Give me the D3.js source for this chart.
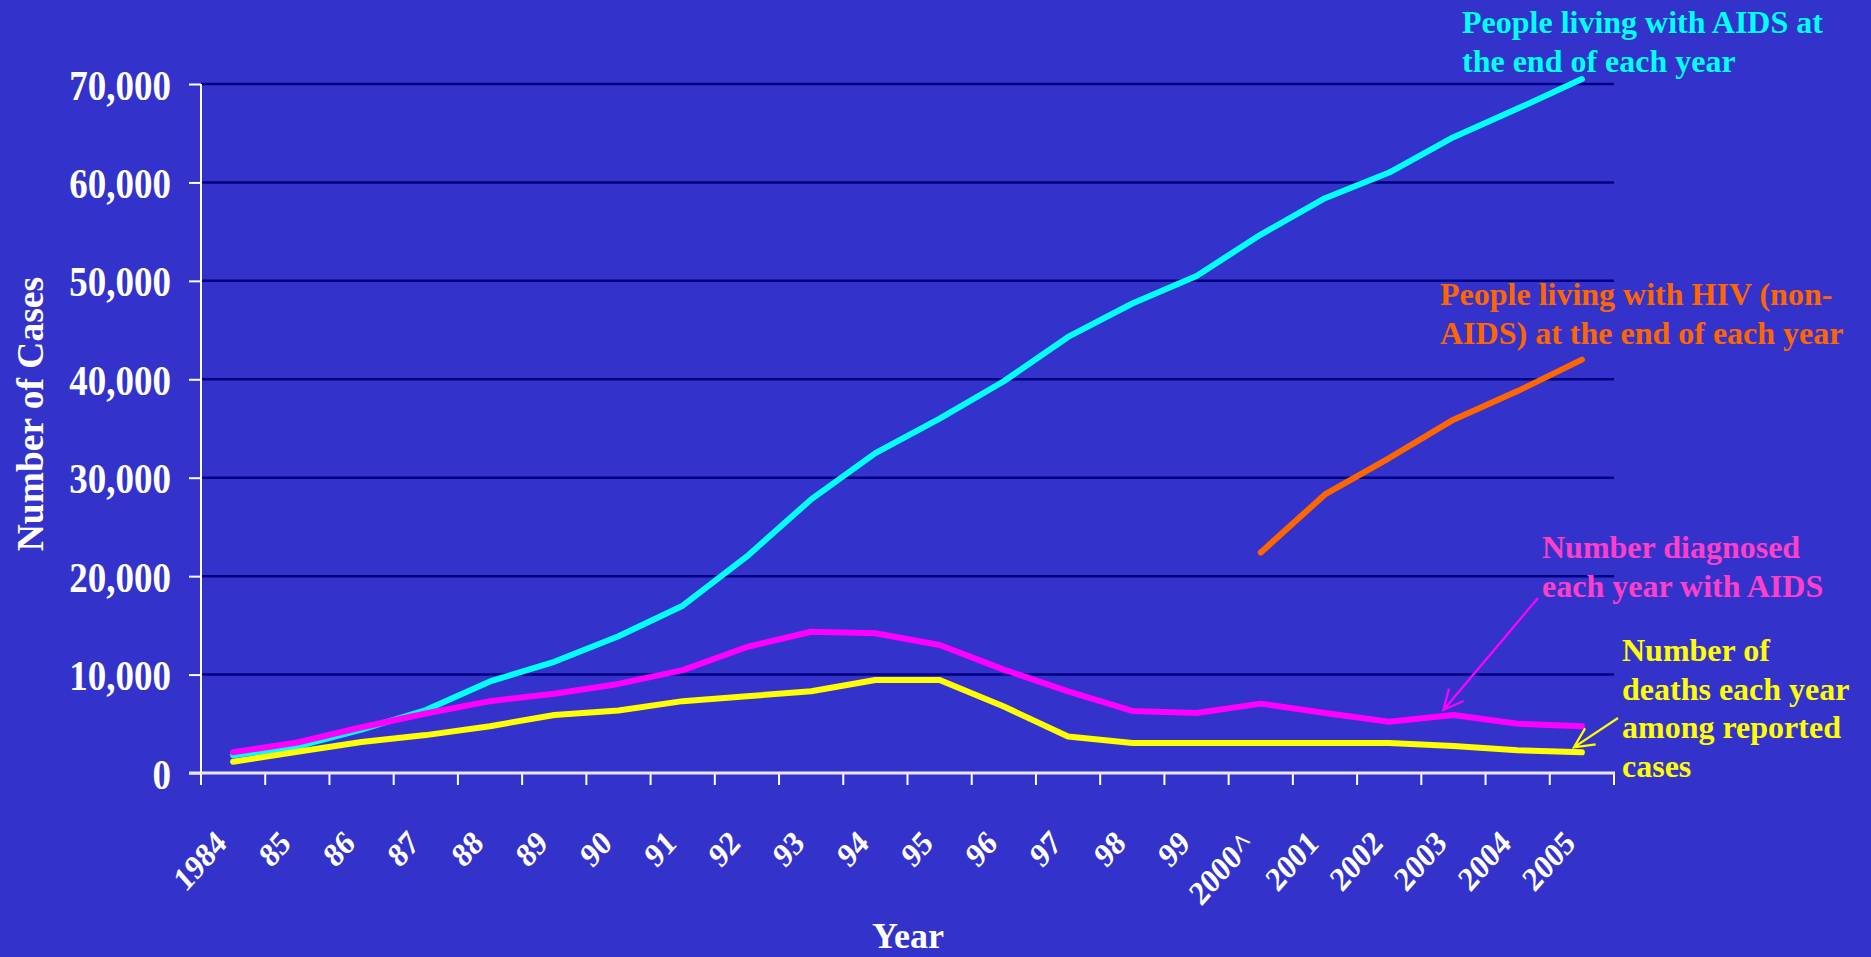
<!DOCTYPE html>
<html>
<head>
<meta charset="utf-8">
<script src="https://cdn.jsdelivr.net/npm/d3@7"></script>
<style>
  html, body { margin: 0; padding: 0; background: #3333CC; }
  svg { display: block; }
  text { font-family: "Liberation Serif", "Times New Roman", serif; font-weight: bold; }
</style>
</head>
<body>
<svg id="chart" width="1871" height="957"></svg>
<script>
// Year categories along the x axis
const years = ["1984","85","86","87","88","89","90","91","92","93","94","95","96","97","98","99","2000^","2001","2002","2003","2004","2005"];

// People living with AIDS at the end of each year
const livingAids = [1800,2700,4400,6400,9300,11300,13900,17000,22000,27800,32500,36000,39800,44300,47700,50500,54700,58400,61000,64600,67500,70500];
// People living with HIV (non-AIDS) at the end of each year (reported from 2000)
const livingHiv = [null,null,null,null,null,null,null,null,null,null,null,null,null,null,null,null,22400,28300,32000,35900,38800,42000];
// Number diagnosed each year with AIDS
const diagnosed = [2100,3100,4650,6050,7300,8050,9050,10450,12800,14350,14200,13000,10500,8300,6300,6100,7050,6100,5200,5900,5000,4750];
// Number of deaths each year among reported cases
const deaths = [1150,2150,3150,3850,4750,5900,6350,7300,7800,8300,9450,9450,6750,3700,3050,3050,3050,3050,3050,2750,2300,2100];

const yTicks = [0,10000,20000,30000,40000,50000,60000,70000];

const svg = d3.select("#chart");
const W = 1871, H = 957;
svg.append("rect").attr("width", W).attr("height", H).attr("fill", "#3333CC");

const plot = { left: 201, right: 1614, top: 84, bottom: 773 };

const x = d3.scaleBand().domain(years).range([plot.left, plot.right]).paddingInner(0).paddingOuter(0);
const y = d3.scaleLinear().domain([0, 70000]).range([plot.bottom, plot.top]);
const cx = d => x(d) + x.bandwidth() / 2;

// Horizontal gridlines
svg.append("g")
  .selectAll("line")
  .data(yTicks.filter(v => v > 0))
  .join("line")
  .attr("x1", plot.left).attr("x2", plot.right)
  .attr("y1", d => y(d)).attr("y2", d => y(d))
  .attr("stroke", "#000080").attr("stroke-width", 2.5);

// Y axis
const yAxis = svg.append("g")
  .attr("transform", `translate(${plot.left},0)`)
  .call(d3.axisLeft(y).tickValues(yTicks).tickSize(12).tickFormat(d3.format(",")));
yAxis.select(".domain").attr("stroke", "#FFFFFF").attr("stroke-width", 2)
  .attr("d", `M0,${plot.top}V${plot.bottom}`);
yAxis.selectAll(".tick line").attr("stroke", "#FFFFFF").attr("stroke-width", 2);
yAxis.selectAll(".tick text")
  .attr("x", null).attr("dy", null)
  .attr("transform", "translate(-30,15) scale(0.86,1)")
  .attr("fill", "#FFFFFF")
  .style("font-size", "43px")
  .style("font-family", "'Liberation Serif', 'Times New Roman', serif")
  .style("font-weight", "bold");

// X axis: labels from the band scale, ticks on category boundaries
const xAxis = svg.append("g")
  .attr("transform", `translate(0,${plot.bottom})`)
  .call(d3.axisBottom(x).tickSize(0).tickPadding(0));
xAxis.select(".domain").remove();
xAxis.selectAll(".tick text")
  .attr("y", null).attr("dy", null)
  .attr("text-anchor", "end")
  .attr("transform", "translate(-5,72) scale(0.88,1) rotate(-45)")
  .attr("fill", "#FFFFFF")
  .style("font-size", "34px")
  .style("font-family", "'Liberation Serif', 'Times New Roman', serif")
  .style("font-weight", "bold");

const bounds = years.map(d => x(d)).concat([x.range()[1]]);
svg.append("g")
  .selectAll("line")
  .data(bounds)
  .join("line")
  .attr("x1", d => d).attr("x2", d => d)
  .attr("y1", plot.bottom).attr("y2", plot.bottom + 12)
  .attr("stroke", "#FFFFFF").attr("stroke-width", 2);
svg.append("line")
  .attr("x1", plot.left - 12).attr("x2", plot.right + 1)
  .attr("y1", plot.bottom).attr("y2", plot.bottom)
  .attr("stroke", "#E6E6F4").attr("stroke-width", 3);

// Series lines
const series = [
  { values: livingAids, color: "#00FFFF" },
  { values: livingHiv, color: "#FF6600" },
  { values: diagnosed, color: "#FF00FF" },
  { values: deaths, color: "#FFFF00" }
];
const line = d3.line()
  .defined(d => d.v != null)
  .x(d => cx(d.year))
  .y(d => y(d.v));
svg.append("g")
  .selectAll("path")
  .data(series)
  .join("path")
  .attr("d", s => line(years.map((yr, i) => ({ year: yr, v: s.values[i] }))))
  .attr("fill", "none")
  .attr("stroke", s => s.color)
  .attr("stroke-width", 6)
  .attr("stroke-linejoin", "round")
  .attr("stroke-linecap", "round");

// Axis titles
svg.append("text")
  .attr("x", 908).attr("y", 948)
  .attr("text-anchor", "middle")
  .attr("fill", "#FFFFFF")
  .style("font-size", "36px")
  .text("Year");
svg.append("text")
  .attr("transform", "translate(43,277) rotate(-90)")
  .attr("text-anchor", "end")
  .attr("fill", "#FFFFFF")
  .style("font-size", "37.5px")
  .text("Number of Cases");

// Series annotations
function note(lines, x0, y0, color) {
  const t = svg.append("text")
    .attr("fill", color)
    .style("font-size", "32px");
  lines.forEach((s, i) => {
    t.append("tspan").attr("x", x0).attr("y", y0 + i * 38.5).text(s);
  });
}
note(["People living with AIDS at", "the end of each year"], 1462, 33, "#00FFFF");
note(["People living with HIV (non-", "AIDS) at the end of each year"], 1440, 305, "#FF6600");
note(["Number diagnosed", "each year with AIDS"], 1542, 558, "#FF3FC8");
note(["Number of", "deaths each year", "among reported", "cases"], 1622, 661, "#FFFF00");

// Pointer arrows from labels to their lines
function arrow(x0, y0, x1, y1, color) {
  const ang = Math.atan2(y0 - y1, x0 - x1);
  const len = 22, spread = Math.PI / 7;
  const a1 = [x1 + len * Math.cos(ang - spread), y1 + len * Math.sin(ang - spread)];
  const a2 = [x1 + len * Math.cos(ang + spread), y1 + len * Math.sin(ang + spread)];
  svg.append("path")
    .attr("d", `M${x0},${y0}L${x1},${y1}M${a1[0]},${a1[1]}L${x1},${y1}L${a2[0]},${a2[1]}`)
    .attr("fill", "none")
    .attr("stroke", color)
    .attr("stroke-width", 2.2);
}
arrow(1538, 598, cx("2003") - 10, y(diagnosed[19]) - 5, "#FF00FF");
arrow(1618, 718, cx("2005") - 8, y(deaths[21]) - 5, "#FFFF00");
</script>
</body>
</html>
